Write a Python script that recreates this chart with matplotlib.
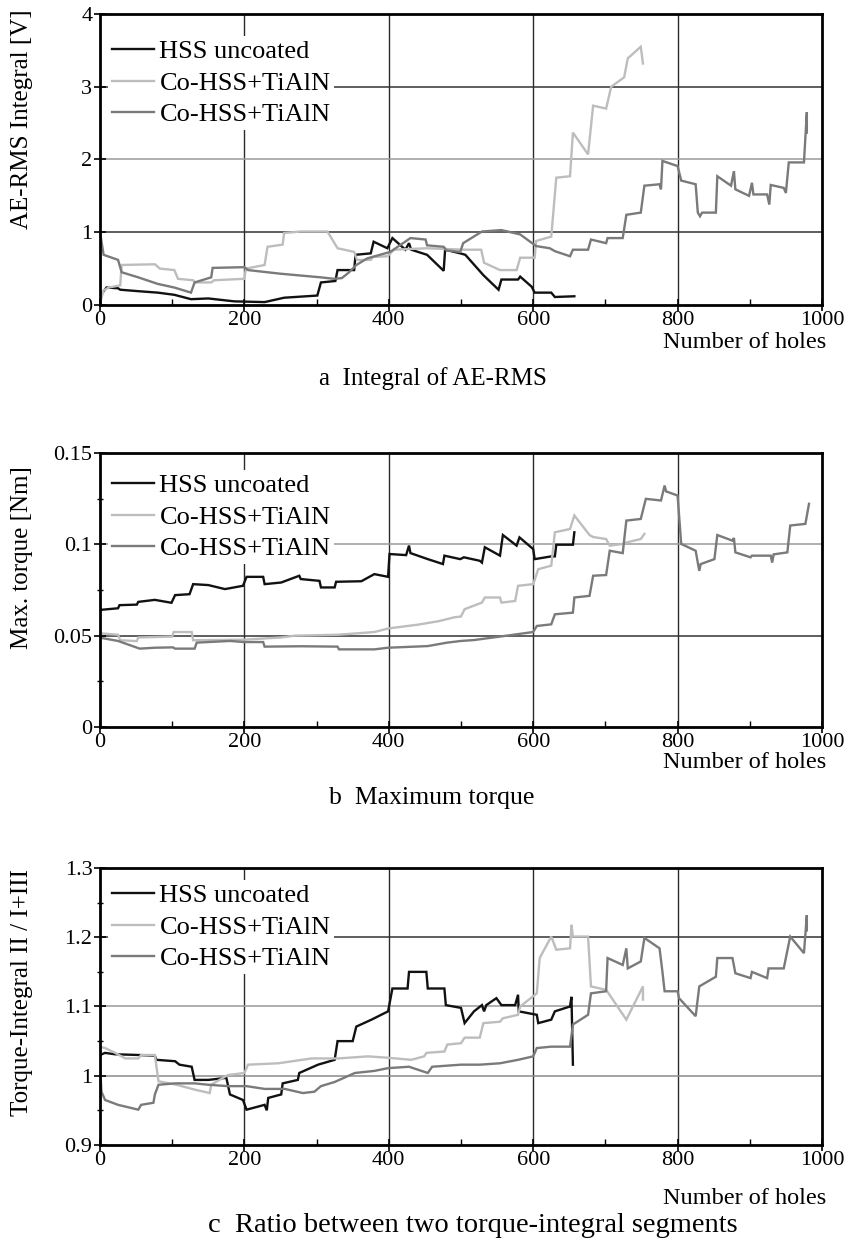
import matplotlib
matplotlib.use('Agg')
import matplotlib.pyplot as plt
from matplotlib.ticker import MultipleLocator, FuncFormatter

plt.rcParams['font.family'] = ['Liberation Serif', 'DejaVu Serif']

LABELS = ["HSS uncoated", "Co-HSS+TiAlN", "Co-HSS+TiAlN"]
COLORS = ["#111111", "#bdbdbd", "#7a7a7a"]

# ── a: integral of AE-RMS [V] ─────────────────────────
a_hss_x = [0, 2, 9, 25, 28, 53, 80, 103, 126, 150, 186, 228, 255, 301, 306, 326, 329, 352, 354,
           375, 379, 398, 405, 423, 428, 431, 453, 476, 478, 499, 506, 531, 552, 556, 579, 582,
           590, 598, 602, 625, 630, 657]
a_hss_y = [0.0, 0.15, 0.24, 0.23, 0.21, 0.19, 0.17, 0.14, 0.08, 0.09, 0.05, 0.04, 0.10, 0.13,
           0.31, 0.33, 0.48, 0.48, 0.69, 0.71, 0.87, 0.78, 0.92, 0.76, 0.85, 0.76, 0.69, 0.47,
           0.76, 0.71, 0.69, 0.41, 0.21, 0.35, 0.35, 0.39, 0.32, 0.25, 0.17, 0.17, 0.11, 0.12]

a_co1_x = [0, 5, 12, 28, 30, 76, 83, 103, 108, 129, 132, 154, 158, 200, 202, 228, 232, 253, 255,
           278, 315, 329, 352, 356, 375, 378, 398, 407, 453, 505, 528, 532, 554, 577, 582, 602,
           604, 625, 632, 651, 655, 676, 683, 701, 708, 726, 731, 749, 752]
a_co1_y = [0.03, 0.20, 0.24, 0.27, 0.55, 0.56, 0.50, 0.48, 0.36, 0.34, 0.31, 0.31, 0.34, 0.36,
           0.50, 0.55, 0.80, 0.83, 0.99, 1.01, 1.01, 0.78, 0.73, 0.62, 0.62, 0.66, 0.67, 0.76,
           0.78, 0.76, 0.76, 0.58, 0.48, 0.48, 0.65, 0.65, 0.88, 0.94, 1.75, 1.77, 2.37, 2.07,
           2.74, 2.70, 3.00, 3.13, 3.39, 3.55, 3.32]

a_co2_x = [0, 5, 25, 30, 53, 80, 103, 126, 131, 154, 156, 200, 205, 250, 306, 324, 335, 345, 355,
           370, 402, 430, 451, 453, 476, 480, 499, 503, 529, 556, 582, 604, 623, 630, 651, 655,
           676, 680, 701, 703, 724, 729, 749, 754, 775, 777, 779, 800, 805, 825, 828, 831, 834,
           853, 855, 874, 878, 880, 899, 903, 905, 924, 927, 929, 947, 950, 954, 975, 979, 979]
a_co2_y = [1.00, 0.69, 0.62, 0.45, 0.38, 0.29, 0.24, 0.17, 0.31, 0.38, 0.51, 0.52, 0.48, 0.43,
           0.38, 0.36, 0.37, 0.45, 0.55, 0.64, 0.73, 0.92, 0.90, 0.82, 0.80, 0.75, 0.73, 0.85,
           1.01, 1.03, 0.97, 0.81, 0.78, 0.74, 0.67, 0.76, 0.76, 0.90, 0.85, 0.92, 0.92, 1.24,
           1.27, 1.64, 1.66, 1.59, 1.98, 1.91, 1.71, 1.66, 1.27, 1.22, 1.27, 1.27, 1.77, 1.64,
           1.84, 1.59, 1.50, 1.68, 1.52, 1.52, 1.38, 1.65, 1.61, 1.54, 1.96, 1.96, 2.65, 2.37]

# ── b: maximum torque [Nm] ────────────────────────────
b_hss_x = [0, 25, 27, 51, 53, 76, 99, 104, 124, 129, 150, 173, 180, 198, 203, 226, 228, 251, 276,
           278, 304, 306, 325, 327, 362, 380, 399, 401, 424, 428, 430, 454, 475, 477, 499, 504,
           526, 529, 533, 554, 558, 577, 581, 600, 602, 625, 630, 632, 655, 657]
b_hss_y = [0.0641, 0.0650, 0.0667, 0.0670, 0.0685, 0.0696, 0.0680, 0.0722, 0.0727, 0.0782,
           0.0777, 0.0755, 0.0760, 0.0773, 0.0822, 0.0822, 0.0782, 0.0791, 0.0828, 0.0810,
           0.0800, 0.0764, 0.0764, 0.0795, 0.0798, 0.0837, 0.0822, 0.0947, 0.0941, 0.0993,
           0.0952, 0.0919, 0.0892, 0.0938, 0.0919, 0.0929, 0.0910, 0.0900, 0.0984, 0.0938,
           0.1051, 0.0993, 0.1038, 0.0974, 0.0919, 0.0934, 0.0934, 0.0998, 0.0998, 0.1066]

b_co1_x = [0, 25, 28, 51, 53, 100, 102, 127, 129, 200, 250, 270, 330, 380, 400, 440, 470, 490,
           500, 505, 529, 533, 554, 556, 575, 579, 600, 607, 625, 630, 651, 657, 678, 683, 701,
           706, 724, 729, 749, 754]
b_co1_y = [0.0513, 0.0505, 0.0475, 0.0470, 0.0490, 0.0495, 0.0520, 0.0520, 0.0475, 0.0478,
           0.0490, 0.0500, 0.0505, 0.0520, 0.0540, 0.0560, 0.0580, 0.0600, 0.0605, 0.0645,
           0.0681, 0.0709, 0.0709, 0.0681, 0.0690, 0.0773, 0.0782, 0.0864, 0.0883, 0.1066,
           0.1084, 0.1158, 0.1051, 0.1040, 0.1029, 0.0993, 0.1002, 0.1010, 0.1029, 0.1057]

b_co2_x = [0, 25, 55, 76, 101, 104, 131, 134, 180, 200, 226, 228, 279, 329, 331, 380, 399, 454,
           481, 500, 518, 554, 600, 605, 625, 630, 655, 657, 678, 683, 701, 706, 724, 729, 749,
           756, 777, 782, 784, 800, 805, 825, 830, 832, 851, 855, 876, 878, 880, 901, 903, 929,
           931, 933, 952, 956, 977, 982]
b_co2_y = [0.0489, 0.0471, 0.0429, 0.0434, 0.0436, 0.0429, 0.0429, 0.0462, 0.0471, 0.0465,
           0.0465, 0.0440, 0.0442, 0.0440, 0.0425, 0.0425, 0.0434, 0.0443, 0.0462, 0.0471,
           0.0476, 0.0495, 0.0520, 0.0553, 0.0562, 0.0617, 0.0626, 0.0709, 0.0718, 0.0828,
           0.0832, 0.0965, 0.0952, 0.1130, 0.1139, 0.1249, 0.1240, 0.1322, 0.1290, 0.1267,
           0.1002, 0.0965, 0.0855, 0.0892, 0.0919, 0.1051, 0.1020, 0.1035, 0.0956, 0.0929,
           0.0938, 0.0938, 0.0900, 0.0945, 0.0956, 0.1103, 0.1112, 0.1222]

# ── c: torque-integral II / I+III ─────────────────────
c_hss_x = [0, 7, 21, 53, 76, 78, 104, 110, 127, 131, 150, 175, 180, 198, 203, 228, 231, 233, 251,
           253, 274, 276, 302, 325, 329, 350, 355, 376, 399, 405, 426, 428, 452, 454, 477, 479,
           500, 505, 518, 529, 532, 535, 549, 556, 575, 579, 580, 605, 607, 625, 630, 651, 653,
           655]
c_hss_y = [1.030, 1.033, 1.031, 1.030, 1.029, 1.023, 1.021, 1.016, 1.013, 0.994, 0.994, 0.997,
           0.973, 0.965, 0.951, 0.958, 0.950, 0.968, 0.973, 0.989, 0.994, 1.004, 1.016, 1.023,
           1.050, 1.050, 1.071, 1.081, 1.093, 1.126, 1.126, 1.150, 1.150, 1.126, 1.126, 1.102,
           1.098, 1.076, 1.093, 1.102, 1.093, 1.102, 1.112, 1.102, 1.102, 1.117, 1.093, 1.088,
           1.076, 1.081, 1.093, 1.100, 1.114, 1.016]

c_co1_x = [0, 7, 21, 35, 53, 57, 76, 81, 106, 131, 152, 154, 177, 200, 205, 247, 293, 330, 371,
           399, 431, 449, 452, 477, 481, 500, 505, 526, 531, 554, 558, 579, 582, 605, 609, 625,
           632, 651, 653, 655, 676, 680, 701, 705, 729, 752, 752]
c_co1_y = [1.042, 1.040, 1.033, 1.025, 1.025, 1.030, 1.030, 0.992, 0.987, 0.980, 0.975, 0.987,
           1.001, 1.004, 1.016, 1.018, 1.025, 1.025, 1.028, 1.026, 1.023, 1.028, 1.033, 1.035,
           1.045, 1.047, 1.055, 1.055, 1.076, 1.078, 1.083, 1.088, 1.100, 1.119, 1.170, 1.201,
           1.182, 1.184, 1.218, 1.201, 1.201, 1.129, 1.124, 1.118, 1.081, 1.129, 1.110]

c_co2_x = [0, 2, 7, 25, 53, 57, 74, 76, 81, 104, 131, 150, 177, 203, 228, 256, 281, 297, 306,
           325, 353, 380, 399, 428, 454, 460, 500, 526, 554, 579, 600, 605, 625, 651, 655, 676,
           680, 701, 703, 724, 729, 731, 749, 754, 775, 779, 782, 800, 802, 825, 830, 853, 855,
           876, 880, 901, 903, 924, 926, 947, 956, 975, 979, 979]
c_co2_y = [1.016, 0.977, 0.965, 0.958, 0.951, 0.958, 0.961, 0.973, 0.987, 0.989, 0.989, 0.987,
           0.985, 0.985, 0.981, 0.981, 0.975, 0.977, 0.985, 0.991, 1.004, 1.007, 1.011, 1.013,
           1.004, 1.013, 1.016, 1.016, 1.018, 1.023, 1.028, 1.040, 1.042, 1.042, 1.074, 1.088,
           1.119, 1.122, 1.170, 1.160, 1.184, 1.155, 1.165, 1.199, 1.184, 1.150, 1.122, 1.122,
           1.112, 1.086, 1.129, 1.143, 1.170, 1.170, 1.148, 1.141, 1.150, 1.141, 1.155, 1.155,
           1.201, 1.177, 1.232, 1.210]

W, H = 860, 1244
fig = plt.figure(figsize=(W / 100, H / 100), dpi=100)
fig.patch.set_facecolor('white')


def px_rect(left, top, right, bottom):
    return [left / W, 1 - bottom / H, (right - left) / W, (bottom - top) / H]


panels = [
    {
        "rect": px_rect(100, 14, 822, 305), "top": 14, "bottom": 305,
        "series": [(a_hss_x, a_hss_y), (a_co1_x, a_co1_y), (a_co2_x, a_co2_y)],
        "ylim": (0, 4), "major": 1, "minor": None,
        "hgrid": {1: "#333333", 2: "#9a9a9a", 3: "#333333"},
        "ylabel": "AE-RMS Integral [V]", "ylab_y": 0.64, "leg_top": 22,
        "holes_y": 342, "caption": "a  Integral of AE-RMS", "cap_x": 433, "cap_y": 379,
        "cap_fs": 18,
    },
    {
        "rect": px_rect(100, 453, 822, 727), "top": 453, "bottom": 727,
        "series": [(b_hss_x, b_hss_y), (b_co1_x, b_co1_y), (b_co2_x, b_co2_y)],
        "ylim": (0, 0.15), "major": 0.05, "minor": 0.025,
        "hgrid": {0.05: "#333333", 0.1: "#9a9a9a"},
        "ylabel": "Max. torque [Nm]", "ylab_y": 0.62, "leg_top": 17,
        "holes_y": 762, "caption": "b  Maximum torque", "cap_x": 432, "cap_y": 798,
        "cap_fs": 18.5,
    },
    {
        "rect": px_rect(100, 868, 822, 1145), "top": 868, "bottom": 1145,
        "series": [(c_hss_x, c_hss_y), (c_co1_x, c_co1_y), (c_co2_x, c_co2_y)],
        "ylim": (0.9, 1.3), "major": 0.1, "minor": 0.05,
        "hgrid": {1.0: "#8a8a8a", 1.1: "#9a9a9a", 1.2: "#333333"},
        "ylabel": "Torque-Integral II / I+III", "ylab_y": 0.55, "leg_top": 12,
        "holes_y": 1199, "caption": "c  Ratio between two torque-integral segments",
        "cap_x": 473, "cap_y": 1226, "cap_fs": 20.5,
    },
]

for p in panels:
    ax = fig.add_axes(p["rect"])
    ax.set_xlim(0, 1000)
    ax.set_ylim(*p["ylim"])

    # grid (under the data)
    for gx in (200, 400, 600, 800):
        ax.axvline(gx, color="#2a2a2a", lw=1.0, zorder=1)
    for gy, gc in p["hgrid"].items():
        ax.axhline(gy, color=gc, lw=1.1, zorder=1)

    for (xs, ys), col, lab in zip(p["series"], COLORS, LABELS):
        ax.plot(xs, ys, color=col, lw=1.7, label=lab, zorder=3,
                solid_joinstyle='miter')

    ax.xaxis.set_major_locator(MultipleLocator(200))
    ax.xaxis.set_minor_locator(MultipleLocator(100))
    ax.yaxis.set_major_locator(MultipleLocator(p["major"]))
    if p["minor"]:
        ax.yaxis.set_minor_locator(MultipleLocator(p["minor"]))
    ax.yaxis.set_major_formatter(FuncFormatter(lambda v, _: f"{v:g}"))

    ax.tick_params(axis='x', which='major', direction='inout', length=8, width=1.2,
                   labelsize=16, pad=0)
    ax.tick_params(axis='x', which='minor', direction='in', length=4, width=1.0)
    ax.tick_params(axis='y', which='major', direction='inout', length=9, width=1.2,
                   labelsize=16, pad=1)
    ax.tick_params(axis='y', which='minor', direction='inout', length=5, width=1.0)

    for sp in ax.spines.values():
        sp.set_linewidth(2.0)
        sp.set_zorder(4)

    ax.set_ylabel(p["ylabel"], fontsize=18)
    ax.yaxis.set_label_coords(-0.093, p["ylab_y"])

    height_px = p["bottom"] - p["top"]
    leg = ax.legend(loc='upper left', bbox_to_anchor=(0.011, 1 - p["leg_top"] / height_px),
                    fontsize=19, frameon=True, facecolor='white',
                    edgecolor='none', framealpha=1, fancybox=False,
                    handlelength=1.6, handletextpad=0.2, labelspacing=0.3,
                    borderpad=0.15, borderaxespad=0)
    leg.set_zorder(5)

    fig.text(826 / W, 1 - p["holes_y"] / H, "Number of holes", fontsize=17.5,
             ha='right', va='center')
    fig.text(p["cap_x"] / W, 1 - p["cap_y"] / H, p["caption"], fontsize=p["cap_fs"],
             ha='center', va='center')

fig.savefig("out.png", dpi=100, facecolor='white')
